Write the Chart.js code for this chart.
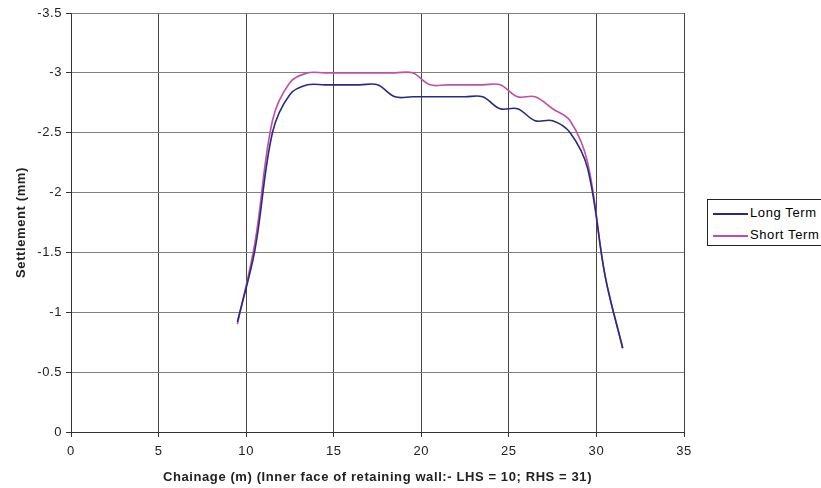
<!DOCTYPE html>
<html>
<head>
<meta charset="utf-8">
<script src="https://cdn.jsdelivr.net/npm/chart.js@4"></script>
<style>
  html, body { margin: 0; padding: 0; background: #fff; }
  #wrap { position: relative; width: 821px; height: 488px; overflow: hidden; }
  #legend {
    position: absolute; left: 707px; top: 199px; width: 125px; height: 47px;
    border: 1px solid #222; box-sizing: border-box; background: #fff;
    font: 13px "Liberation Sans", Arial, sans-serif; color: #000; letter-spacing: 0.6px;
    padding: 2px 0 0 5px;
  }
  #legend div { height: 22px; line-height: 22px; white-space: nowrap; }
  #legend span { display: inline-block; width: 35px; height: 2px; vertical-align: middle; margin-right: 2px; }
</style>
</head>
<body>
<div id="wrap">
  <canvas id="chart" width="821" height="488"></canvas>
  <div id="legend"></div>
</div>
<script>
// chainage (m)
const chainage = [9.5, 10.5, 11.5, 12.5, 13.5, 14.5, 15.5, 16.5, 17.5, 18.5, 19.5, 20.5,
  21.5, 22.5, 23.5, 24.5, 25.5, 26.5, 27.5, 28.5, 29.5, 30.5, 31.5];

// settlement (mm)
const longTerm = [-0.92, -1.52, -2.5, -2.82, -2.9, -2.9, -2.9, -2.9, -2.9, -2.8, -2.8, -2.8,
  -2.8, -2.8, -2.8, -2.7, -2.7, -2.6, -2.6, -2.5, -2.2, -1.3, -0.7];

const shortTerm = [-0.9, -1.58, -2.6, -2.92, -3.0, -3.0, -3.0, -3.0, -3.0, -3.0, -3.0, -2.9,
  -2.9, -2.9, -2.9, -2.9, -2.8, -2.8, -2.7, -2.6, -2.25, -1.3, -0.7];

const seriesNames = ["Long Term", "Short Term"];
const seriesColors = ["#2a2a80", "#c24fa2"];

const font = "'Liberation Sans', Arial, sans-serif";

function points(values) {
    return values.map((v, i) => ({ x: chainage[i], y: v }));
}

const datasets = [longTerm, shortTerm].map((values, i) => ({
    label: seriesNames[i],
    data: points(values),
    borderColor: seriesColors[i],
    backgroundColor: seriesColors[i],
    borderWidth: 1.6,
    pointRadius: 0,
    tension: 0.36,
    fill: false
}));

// wider glyph spacing, like the original print
const spacing = {
    id: "spacing",
    beforeDraw: chart => { chart.ctx.letterSpacing = "0.6px"; }
};

new Chart(document.getElementById("chart"), {
    type: "line",
    data: { datasets },
    plugins: [spacing],
    options: {
        responsive: false,
        animation: false,
        layout: { padding: { top: 13, right: 137, left: 0, bottom: 0 } },
        plugins: {
            legend: { display: false },
            tooltip: { enabled: false }
        },
        scales: {
            x: {
                type: "linear",
                min: 0,
                max: 35,
                ticks: { stepSize: 5, color: "#222", font: { family: font, size: 13 }, padding: 7 },
                grid: { color: "#444", tickLength: 5, drawTicks: true, tickColor: "#333" },
                border: { color: "#333", width: 1 },
                title: {
                    display: true,
                    text: "Chainage (m) (Inner face of retaining wall:- LHS = 10; RHS = 31)",
                    color: "#222",
                    font: { family: font, size: 13, weight: "bold" },
                    padding: { top: 0, bottom: 3 }
                },
                afterFit: scale => { scale.height = 56; }
            },
            y: {
                reverse: true,
                min: -3.5,
                max: 0,
                ticks: {
                    stepSize: 0.5,
                    color: "#222",
                    font: { family: font, size: 13 },
                    padding: 4,
                    callback: v => String(v)
                },
                grid: { color: "#808080", tickLength: 5, drawTicks: true, tickColor: "#333" },
                border: { color: "#333", width: 1 },
                title: {
                    display: true,
                    text: "Settlement (mm)",
                    color: "#222",
                    font: { family: font, size: 13, weight: "bold" },
                    padding: { top: 14, bottom: 0 }
                },
                afterFit: scale => { scale.width = 71; }
            }
        }
    }
});

// legend box (real text)
const legend = document.getElementById("legend");
seriesNames.forEach((name, i) => {
    const row = document.createElement("div");
    const swatch = document.createElement("span");
    swatch.style.background = seriesColors[i];
    row.appendChild(swatch);
    row.appendChild(document.createTextNode(name));
    legend.appendChild(row);
});
</script>
</body>
</html>
